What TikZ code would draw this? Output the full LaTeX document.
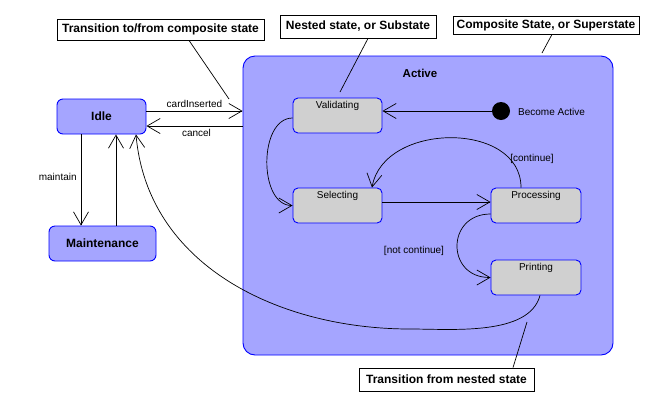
\documentclass[tikz,border=0pt]{standalone}
\usepackage{fontspec}
\setmainfont{Liberation Sans}
\usetikzlibrary{arrows.meta,calc}
\definecolor{actfill}{HTML}{A5A5FF}
\definecolor{stborder}{HTML}{0000FF}
\definecolor{subfill}{HTML}{D0D0D0}
\begin{document}
\begin{tikzpicture}[x=1pt,y=-1pt,
  arr/.style={draw=black, line width=0.7pt, -{Straight Barb[length=13pt,width=15pt]}},
  conn/.style={draw=black, line width=0.7pt},
  note/.style={draw=black, line width=0.8pt, fill=white, minimum height=21pt, inner xsep=3pt, font=\fontsize{12}{14}\selectfont\bfseries},
  bigstate/.style={draw=stborder, line width=0.9pt, fill=actfill, rounded corners=6pt, minimum height=35pt, font=\fontsize{12}{14}\selectfont\bfseries},
  substate/.style={draw=stborder, line width=0.9pt, fill=subfill, rounded corners=5pt, minimum width=89pt, text height=7.5pt, text depth=21.5pt, inner ysep=3pt, font=\fontsize{10}{12}\selectfont},
  lbl/.style={font=\fontsize{10}{12}\selectfont, inner sep=1pt}
]
\useasboundingbox (0,0) rectangle (650,400);

% composite state
\node[draw=stborder, line width=0.9pt, fill=actfill, rounded corners=12pt, minimum width=370pt, minimum height=299pt] (active) at (428,205.5) {};
\node[font=\fontsize{11.5}{13}\selectfont\bfseries] (activet) at (420,73) {Active};

% simple states
\node[bigstate, minimum width=89pt] (idle) at (101.5,116.5) {Idle};
\node[bigstate, minimum width=107pt] (maint) at (102.5,243.5) {Maintenance};

% substates
\node[substate] (valid) at (337.5,115.5) {Validating};
\node[substate] (sel) at (337.5,205.5) {Selecting};
\node[substate, minimum width=90pt] (proc) at (536,205.5) {Processing};
\node[substate, minimum width=90pt] (print) at (536,277.5) {Printing};

% initial state
\node[circle, fill=black, minimum size=18pt, inner sep=0pt] (init) at (501,111) {};
\node[lbl, anchor=west] (initl) at (517,112) {Become Active};

% transitions
\draw[arr] (init.west) -- (valid.east |- init);
\draw[arr] (idle.east |- init) -- node[lbl, above=2pt] (cardl) {cardInserted} (active.west |- init);
\draw[arr] (active.west |- 0,126) -- node[lbl, below=2pt, xshift=2pt] (cancl) {cancel} (idle.east |- 0,126);
\draw[arr] (idle.south -| 81,0) -- node[lbl, left=3pt, pos=0.47] (maintl) {maintain} (maint.north -| 81,0);
\draw[arr] (maint.north -| 116,0) -- (idle.south -| 116,0);
\draw[arr] ([yshift=-2.5pt]valid.west) to[out=180,in=180] (sel.west);
\draw[arr] ([yshift=3.5pt]sel.east) -- ([yshift=3.5pt]proc.west);
\draw[arr] (proc.north -| 521,0) to[out=90,in=80,looseness=1.15] (sel.north -| 372,0);
\node[lbl] (contl) at (532,159) {[continue]};
\draw[arr] ([yshift=-8.5pt]proc.west) to[out=180,in=180,looseness=1.8] (print.west);
\node[lbl] (ncontl) at (414,251) {[not continue]};
\draw[arr] ([xshift=4pt]print.south) to[out=-105,in=0,looseness=0.8] (410,329) to[out=180,in=-85] (idle.south -| 136,0);

% notes
\node[note, minimum width=207pt] (n1) at (160.5,29.5) {Transition to/from composite state};
\coordinate (n1e) at (229,99);
\draw[conn] (n1.south -| 189,0) -- (n1e);
\node[note, minimum width=156pt, minimum height=23pt] (n2) at (358,26.5) {Nested state, or Substate};
\coordinate (n2e) at (340,92);
\draw[conn] (n2.south -| 368,0) -- (n2e);
\node[note, minimum width=186pt, minimum height=18pt] (n3) at (546,25) {Composite State, or Superstate};
\coordinate (n3e) at (542,53);
\draw[conn] (n3.south -| 552,0) -- (n3e);
\node[note, minimum width=175pt, minimum height=23pt] (n4) at (446.5,379.5) {Transition from nested state};
\coordinate (n4e) at (527,322);
\draw[conn] (n4.north -| 513,0) -- (n4e);
\end{tikzpicture}
\end{document}
